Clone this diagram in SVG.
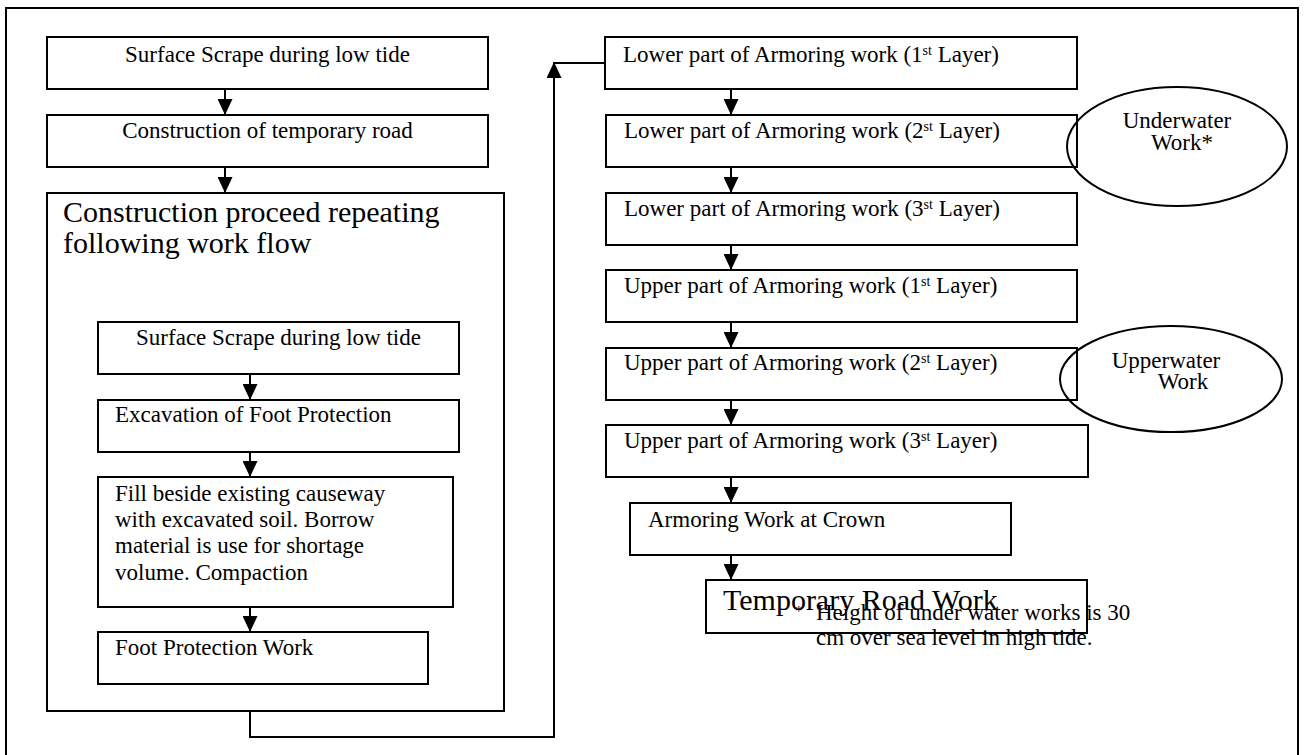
<svg xmlns="http://www.w3.org/2000/svg" width="1306" height="755" viewBox="0 0 1306 755">
<style>
  .box { fill: #fff; stroke: #000; stroke-width: 2; }
  .ell { fill: none; stroke: #000; stroke-width: 2; }
  .ln { fill: none; stroke: #000; stroke-width: 2; }
  text { font-family: "Liberation Serif", "Times New Roman", serif; font-size: 23px; fill: #000; }
  .big { font-size: 30px; }
  .mid { text-anchor: middle; }
  .sup { font-size: 14px; }
</style>
<defs>
  <marker id="ah" markerUnits="userSpaceOnUse" markerWidth="16" markerHeight="15" viewBox="0 0 16 15" refX="15" refY="7.5" orient="auto">
    <path d="M0,0 L16,7.5 L0,15 z" fill="#000"/>
  </marker>
</defs>
<rect width="1306" height="755" fill="#fff"/>
<rect id="frame" x="6" y="8" width="1292" height="770" fill="none" stroke="#000" stroke-width="2"/>

<g id="L1"><rect class="box" x="47" y="37" width="441" height="52"/><text class="mid" x="267.5" y="62">Surface Scrape during low tide</text></g>
<g id="L2"><rect class="box" x="47" y="115" width="441" height="52"/><text class="mid" x="267.5" y="138">Construction of temporary road</text></g>
<g id="container"><rect class="box" x="47" y="193" width="457" height="518"/>
  <text class="big" x="63" y="222">Construction proceed repeating</text>
  <text class="big" x="63" y="253">following work flow</text></g>
<g id="I1"><rect class="box" x="98" y="322" width="361" height="52"/><text class="mid" x="278.5" y="345">Surface Scrape during low tide</text></g>
<g id="I2"><rect class="box" x="98" y="400" width="361" height="52"/><text x="115" y="422">Excavation of Foot Protection</text></g>
<g id="I3"><rect class="box" x="98" y="477" width="355" height="130"/>
  <text x="115" y="501">Fill beside existing causeway</text>
  <text x="115" y="527">with excavated soil. Borrow</text>
  <text x="115" y="553">material is use for shortage</text>
  <text x="115" y="580">volume. Compaction</text></g>
<g id="I4"><rect class="box" x="98" y="632" width="330" height="52"/><text x="115" y="655">Foot Protection Work</text></g>

<g id="R1"><rect class="box" x="605" y="37" width="472" height="52"/><text x="623" y="62">Lower part of Armoring work (1<tspan class="sup" baseline-shift="super">st</tspan> Layer)</text></g>
<g id="R2"><rect class="box" x="606" y="115" width="471" height="52"/><text x="624" y="138">Lower part of Armoring work (2<tspan class="sup" baseline-shift="super">st</tspan> Layer)</text></g>
<g id="R3"><rect class="box" x="606" y="193" width="471" height="52"/><text x="624" y="216">Lower part of Armoring work (3<tspan class="sup" baseline-shift="super">st</tspan> Layer)</text></g>
<g id="R4"><rect class="box" x="606" y="270" width="471" height="52"/><text x="624" y="293">Upper part of Armoring work (1<tspan class="sup" baseline-shift="super">st</tspan> Layer)</text></g>
<g id="R5"><rect class="box" x="606" y="348" width="471" height="52"/><text x="624" y="370">Upper part of Armoring work (2<tspan class="sup" baseline-shift="super">st</tspan> Layer)</text></g>
<g id="R6"><rect class="box" x="606" y="425" width="482" height="52"/><text x="624" y="448">Upper part of Armoring work (3<tspan class="sup" baseline-shift="super">st</tspan> Layer)</text></g>
<g id="R7"><rect class="box" x="630" y="503" width="381" height="52"/><text x="648" y="527">Armoring Work at Crown</text></g>
<g id="R8"><rect class="box" x="706" y="580" width="381" height="53"/><text class="big" x="723" y="610">Temporary Road Work</text></g>

<g id="underwater"><ellipse class="ell" cx="1177" cy="146.5" rx="110" ry="59.5"/>
  <text class="mid" x="1177" y="128">Underwater</text>
  <text class="mid" x="1182" y="150">Work*</text></g>
<g id="upperwater"><ellipse class="ell" cx="1171" cy="379" rx="111" ry="53"/>
  <text class="mid" x="1166" y="368">Upperwater</text>
  <text class="mid" x="1183" y="389">Work</text></g>

<g id="note">
  <text x="795" y="616" style="font-size:15px">*</text>
  <text x="816" y="620">Height of under water works is 30</text>
  <text x="816" y="645">cm over sea level in high tide.</text>
</g>

<g id="connectors">
  <line class="ln" x1="225" y1="89" x2="225" y2="114" marker-end="url(#ah)"/>
  <line class="ln" x1="225" y1="167" x2="225" y2="192" marker-end="url(#ah)"/>
  <line class="ln" x1="250" y1="374" x2="250" y2="399" marker-end="url(#ah)"/>
  <line class="ln" x1="250" y1="452" x2="250" y2="476" marker-end="url(#ah)"/>
  <line class="ln" x1="250" y1="607" x2="250" y2="631" marker-end="url(#ah)"/>
  <path class="ln" d="M250,711 V737 H554 V63" marker-end="url(#ah)"/>
  <line class="ln" x1="553" y1="63" x2="605" y2="63"/>
  <line class="ln" x1="731" y1="89" x2="731" y2="114" marker-end="url(#ah)"/>
  <line class="ln" x1="731" y1="167" x2="731" y2="192" marker-end="url(#ah)"/>
  <line class="ln" x1="731" y1="245" x2="731" y2="269" marker-end="url(#ah)"/>
  <line class="ln" x1="731" y1="322" x2="731" y2="347" marker-end="url(#ah)"/>
  <line class="ln" x1="731" y1="400" x2="731" y2="424" marker-end="url(#ah)"/>
  <line class="ln" x1="731" y1="477" x2="731" y2="502" marker-end="url(#ah)"/>
  <line class="ln" x1="731" y1="555" x2="731" y2="579" marker-end="url(#ah)"/>
</g>
</svg>
